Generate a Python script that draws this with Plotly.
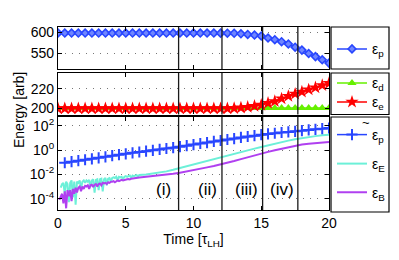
import numpy as np
import plotly.graph_objects as go
from plotly.subplots import make_subplots

# ---------------- data ----------------
# time sampling of the marker series (units of tau_LH)
t_half = np.arange(0.0, 20.001, 0.5)          # 0 .. 20, 41 samples
t_tilde = np.arange(0.5, 20.001, 0.5)         # 0.5 .. 20, 40 samples

eps_p = [597.5, 597.5, 597.5, 597.5, 597.5, 597.5, 597.5, 597.5, 597.5, 597.5,
         597.5, 597.5, 597.5, 597.5, 597.5, 597.5, 597.5, 597.5, 597.5, 597.5,
         597.5, 597.5, 597.5, 597.5, 597.4, 597.3, 597.0, 595.8, 594.3, 592.8,
         590.5, 585.8, 581.8, 577.0, 571.5, 564.0, 557.0, 549.0, 541.5, 534.0,
         526.0]

eps_d = [200.0, 200.0, 200.0, 200.0, 200.0, 200.0, 200.0, 200.0, 200.0, 200.0,
         200.0, 200.0, 200.0, 200.0, 200.0, 200.0, 200.0, 200.0, 200.0, 200.0,
         200.0, 200.0, 200.0, 200.0, 200.0, 200.0, 200.0, 200.0, 200.0, 200.0,
         200.0, 200.0, 200.0, 200.0, 200.0, 200.0, 200.0, 200.0, 200.0, 200.0,
         200.0]

eps_e = [199.5, 199.5, 199.5, 199.5, 199.5, 199.5, 199.5, 199.5, 199.5, 199.5,
         199.5, 199.5, 199.5, 199.5, 199.5, 199.5, 199.5, 199.5, 199.5, 199.5,
         199.5, 199.5, 199.5, 199.5, 199.5, 199.5, 199.8, 200.3, 201.0, 202.0,
         203.2, 205.2, 207.0, 209.8, 212.5, 214.8, 217.0, 219.3, 221.5, 223.8,
         226.0]

# log10 of the bottom-panel energies
eps_p_tilde_log10 = [-1.04, -0.95, -0.87, -0.79, -0.71, -0.63, -0.55, -0.45, -0.37, -0.30,
                     -0.22, -0.15, -0.08, -0.01, 0.06, 0.14, 0.21, 0.29, 0.37, 0.46,
                     0.55, 0.63, 0.72, 0.80, 0.88, 0.96, 1.05, 1.13, 1.20, 1.28,
                     1.34, 1.40, 1.46, 1.51, 1.56, 1.61, 1.67, 1.72, 1.78, 1.83]

t_E = list(np.round(np.arange(0.2, 6.001, 0.1), 2)) + list(np.arange(6.5, 20.001, 0.5))
eps_E_log10 = [-3.1, -2.8, -2.7, -3.6, -2.6, -2.8, -4.3, -2.7, -2.5, -3.9,
               -2.6, -4.5, -2.6, -2.7, -2.5, -3.2, -2.6, -2.5, -2.7, -2.5,
               -2.6, -2.45, -3.0, -2.5, -2.4, -3.5, -2.45, -2.4, -3.3, -2.4,
               -2.35, -3.4, -2.4, -2.3, -2.9, -2.35, -2.3, -2.6, -2.3, -2.25,
               -2.3, -2.2, -2.5, -2.2, -2.25, -2.2, -2.4, -2.2, -2.15, -2.2,
               -2.15, -2.1, -2.3, -2.1, -2.15, -2.1, -2.05, -2.2, -2.05,
               -2.0, -1.93, -1.85, -1.75, -1.62, -1.47, -1.32, -1.17, -1.02, -0.88,
               -0.73, -0.58, -0.44, -0.30, -0.16, -0.02, 0.13, 0.27, 0.41, 0.54,
               0.67, 0.79, 0.90, 1.00, 1.09, 1.16, 1.23, 1.28]

t_B = list(np.round(np.arange(0.1, 6.001, 0.1), 2)) + list(np.arange(6.5, 20.001, 0.5))
eps_B_log10 = [-4.1, -3.9, -3.6, -4.4, -3.4, -4.8, -3.3, -3.8, -3.3, -4.2,
               -3.2, -3.6, -3.1, -3.5, -3.1, -3.0, -3.4, -3.0, -3.2, -2.95,
               -3.0, -2.9, -3.2, -2.9, -2.85, -3.05, -2.85, -2.8, -3.0, -2.8,
               -2.75, -2.9, -2.7, -2.75, -2.7, -2.8, -2.65, -2.7, -2.6, -2.6,
               -2.55, -2.65, -2.55, -2.5, -2.55, -2.5, -2.45, -2.5, -2.45, -2.4,
               -2.4, -2.38, -2.42, -2.35, -2.33, -2.35, -2.3, -2.28, -2.3, -2.25,
               -2.2, -2.15, -2.08, -2.0, -1.95, -1.87, -1.77, -1.66, -1.54, -1.42,
               -1.30, -1.18, -1.04, -0.89, -0.74, -0.58, -0.43, -0.27, -0.14, -0.01,
               0.12, 0.24, 0.36, 0.46, 0.54, 0.60, 0.65, 0.68]

phase_bounds = [8.9, 12.1, 15.1, 17.7]
phase_labels = ["(i)", "(ii)", "(iii)", "(iv)"]
phase_label_x = [7.8, 11.0, 13.9, 16.5]

x_ticks = [0, 5, 10, 15, 20]
top_ticks = [550, 600]
mid_ticks = [200, 220]
log_ticks = [1e-4, 1e-2, 1e0, 1e2]
log_tick_text = ["10<sup>-4</sup>", "10<sup>-2</sup>", "10<sup>0</sup>", "10<sup>2</sup>"]

# ---------------- styling ----------------
BLUE = "#2846ff"
GREEN = "#66f000"
RED = "#ff0000"
CYAN = "#6cf0d8"
PURPLE = "#b040f0"
FONT = "Liberation Sans, Arial, sans-serif"
GRID = dict(showgrid=True, gridcolor="#777777", griddash="1px,6px", gridwidth=1)

fig = make_subplots(rows=3, cols=1, shared_xaxes=False)

fig.add_trace(go.Scatter(x=t_half, y=eps_p, mode="lines+markers", name="ε<sub>p</sub>",
                         line=dict(color=BLUE, width=1.5),
                         marker=dict(symbol="diamond", size=6, color="#6f86ff", line=dict(width=1.6, color=BLUE)),
                         legend="legend"), row=1, col=1)

fig.add_trace(go.Scatter(x=t_half, y=eps_d, mode="lines+markers", name="ε<sub>d</sub>",
                         line=dict(color=GREEN, width=1.5),
                         marker=dict(symbol="triangle-up", size=8, color=GREEN),
                         legend="legend2"), row=2, col=1)
fig.add_trace(go.Scatter(x=t_half, y=eps_e, mode="lines+markers", name="ε<sub>e</sub>",
                         line=dict(color=RED, width=1.5),
                         marker=dict(symbol="star", size=10, color=RED),
                         legend="legend3"), row=2, col=1)

fig.add_trace(go.Scatter(x=t_E, y=10 ** np.array(eps_E_log10), mode="lines", name="ε<sub>E</sub>",
                         line=dict(color=CYAN, width=2), legend="legend5"), row=3, col=1)
fig.add_trace(go.Scatter(x=t_B, y=10 ** np.array(eps_B_log10), mode="lines", name="ε<sub>B</sub>",
                         line=dict(color=PURPLE, width=2), legend="legend6"), row=3, col=1)
fig.add_trace(go.Scatter(x=t_tilde, y=10 ** np.array(eps_p_tilde_log10), mode="lines+markers",
                         name="ε<sub>p</sub>",
                         line=dict(color=BLUE, width=1.5),
                         marker=dict(symbol="cross-thin", size=8, color=BLUE, line=dict(width=2, color=BLUE)),
                         legend="legend4"), row=3, col=1)

# layout geometry
L, R, T, B = 58, 70, 27, 50
W, H = 399, 260
plot_h = H - T - B
def py(p):  # pixel row -> paper y
    return (H - B - p) / plot_h
def px(p):  # pixel column -> paper x
    return (p - L) / (W - L - R)

dom_top = [py(69), 1.0]
dom_mid = [py(114.5), py(73)]
dom_bot = [0.0, py(117)]

axis_common = dict(showline=True, linecolor="black", linewidth=1.2, mirror="ticks",
                   ticks="inside", ticklen=4, tickcolor="black", tickwidth=1,
                   zeroline=False, tickfont=dict(size=14, color="black", family=FONT))

for i in (1, 2, 3):
    fig.update_xaxes(range=[0, 20], tickvals=x_ticks, showgrid=False,
                     showticklabels=(i == 3), row=i, col=1, **axis_common)

fig.update_yaxes(range=[512, 612], tickvals=top_ticks, domain=dom_top, row=1, col=1,
                 **GRID, **axis_common)
fig.update_yaxes(range=[193.2, 236.8], tickvals=mid_ticks, domain=dom_mid, row=2, col=1,
                 **GRID, **axis_common)
fig.update_yaxes(type="log", range=[-4.94, 2.74], tickvals=log_ticks, ticktext=log_tick_text,
                 domain=dom_bot, row=3, col=1, **GRID, **axis_common)
fig.update_xaxes(title=dict(text="Time [τ<sub>LH</sub>]", font=dict(size=14, family=FONT, color="black"),
                            standoff=2), row=3, col=1)

# phase boundary lines through every panel
for xr, yr in (("x", "y domain"), ("x2", "y2 domain"), ("x3", "y3 domain")):
    for xb in phase_bounds:
        fig.add_shape(type="line", xref=xr, yref=yr, x0=xb, x1=xb, y0=0, y1=1,
                      line=dict(color="#1a1a1a", width=1.3))

for lab, xl in zip(phase_labels, phase_label_x):
    fig.add_annotation(x=xl, y=-3.26, xref="x3", yref="y3", text=lab, showarrow=False,
                       font=dict(size=17, family=FONT, color="black"))

# y title spanning the panels
fig.add_annotation(x=px(9), y=py(110), xref="paper", yref="paper", text="Energy [arb]",
                   textangle=-90, showarrow=False, font=dict(size=14, family=FONT, color="black"))

# legend boxes
box_x0, box_x1 = px(331), px(389)
for y0, y1 in ((dom_top[0], dom_top[1]), (dom_mid[0], dom_mid[1]), (py(212), dom_bot[1])):
    fig.add_shape(type="rect", xref="paper", yref="paper", x0=box_x0, x1=box_x1, y0=y0, y1=y1,
                  line=dict(color="black", width=1.2), fillcolor="rgba(0,0,0,0)")

leg_common = dict(xanchor="left", yanchor="middle", bgcolor="rgba(0,0,0,0)", borderwidth=0,
                  font=dict(size=14, family=FONT, color="black"), itemwidth=30)
leg_x = px(332)
fig.update_layout(
    legend=dict(x=leg_x, y=py(49.3), **leg_common),
    legend2=dict(x=leg_x, y=py(83.3), **leg_common),
    legend3=dict(x=leg_x, y=py(102.3), **leg_common),
    legend4=dict(x=leg_x, y=py(135), **leg_common),
    legend5=dict(x=leg_x, y=py(164), **leg_common),
    legend6=dict(x=leg_x, y=py(192.7), **leg_common),
)

# tilde accent over the epsilon of the bottom-panel particle energy legend entry
fig.add_annotation(x=px(372), y=py(122), xref="paper", yref="paper", text="~", showarrow=False,
                   font=dict(size=13, family=FONT, color="black"))

fig.update_layout(width=W, height=H, margin=dict(l=L, r=R, t=T, b=B, autoexpand=False),
                  paper_bgcolor="white", plot_bgcolor="white", showlegend=True,
                  font=dict(family=FONT, color="black"))

fig.write_html("out.html", config={"displayModeBar": False},
               post_script="document.body.style.margin='0px';")
